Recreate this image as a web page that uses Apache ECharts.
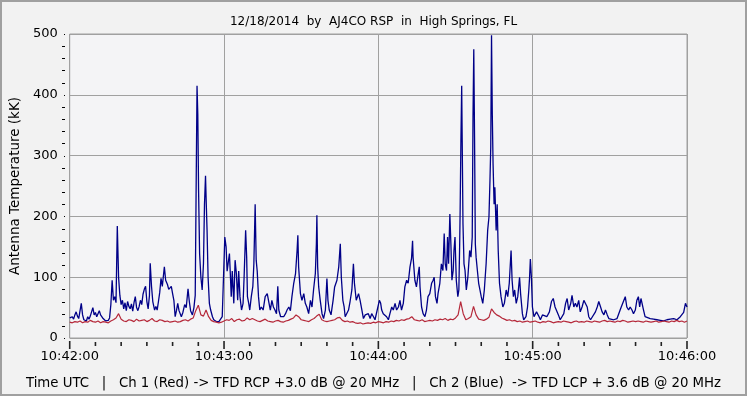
<!DOCTYPE html>
<html><head><meta charset="utf-8">
<script src="https://cdn.jsdelivr.net/npm/echarts@6/dist/echarts.min.js"></script>
<style>html,body{margin:0;padding:0;background:#f2f2f2}#c{width:747px;height:396px}</style>
</head><body><div id="c"></div>
<script>
const titleText = '12/18/2014  by  AJ4CO RSP  in  High Springs, FL';
const footerText = 'Time UTC   |   Ch 1 (Red) -> TFD RCP +3.0 dB @ 20 MHz   |   Ch 2 (Blue)  -> TFD LCP + 3.6 dB @ 20 MHz';
const yAxisName = 'Antenna Temperature (kK)';
const xTickLabels = ['10:42:00', '10:43:00', '10:44:00', '10:45:00', '10:46:00'];
// tick positions (seconds after 10:42:00 / kK)
const xTickValues = [0,10,20,30,40,50,60,70,80,90,100,110,120,130,140,150,160,170,180,190,200,210,220,230,240];
const yTickValues = [0,20,40,60,80,100,120,140,160,180,200,220,240,260,280,300,320,340,360,380,400,420,440,460,480,500];
// seconds after 10:42:00 -> value (kK), Ch 2 blue
const blueData = [[0,33],[0.5,30],[1,35],[1.5,31],[2,38],[2.5,43],[3,36],[3.5,32],[4,34],[4.5,57],[5,38],[5.5,30],[6,33],[6.5,28],[7,35],[7.5,31],[8,36],[8.5,33],[9,50],[9.5,38],[10,42],[10.5,35],[11,40],[11.5,45],[12,38],[12.5,35],[13,32],[13.5,30],[14,28],[14.5,30],[15,29],[15.5,33],
[16,55],[16.5,95],[17,62],[17.5,68],[18,58],[18.5,184],[19,100],[19.5,70],[20,55],[20.5,62],[21,48],[21.5,58],[22,45],[22.5,60],[23,52],[23.5,48],[24,56],[24.5,44],[25,58],[25.5,68],[26,50],[26.5,45],[27,52],[27.5,62],[28,55],[28.5,72],[29,80],[29.5,85],[30,60],[30.5,48],[31,70],[31.3,123],[31.8,85],[32.3,60],[33,46],[33.5,52],[34,46],[34.5,60],[35,75],[35.5,98],[36,85],[36.8,117],[37.3,95],[38,88],[38.5,80],[39,78],[39.5,85],[40,73],[40.5,62],[41,35],[41.5,45],[42,57],[42.5,45],[43.4,35],[44,42],[44.7,55],[45.3,50],[46,81],[46.5,60],[47,45],[47.7,38],[48.3,50],[48.8,70],[49.1,220],[49.5,415],[49.8,368],[50.1,243],[50.5,139],[51,100],[51.5,79],[52,122],[52.4,220],[52.8,267],[53.1,220],[53.4,177],[53.8,100],[54.3,57],[54.8,46],[55.5,35],[56,30],[56.5,28],[57,27],[57.5,30],[58,27],[58.7,29],[59.3,35],[60.3,166],[60.8,150],[61.2,110],[61.6,123],[62.1,139],[62.5,100],[62.8,68],[63.2,110],[63.8,57],[64.3,128],[64.8,106],[65.3,62],[65.7,110],[66.2,68],[66.8,46],[67.4,57],[67.8,100],[68.4,177],[68.8,133],[69.1,68],[69.6,57],[70,46],[70.6,68],[71.2,85],[71.6,122],[72.1,220],[72.5,128],[72.9,110],[73.4,68],[73.9,46],[74.5,51],[75.2,46],[76,68],[76.8,73],[77.5,57],[78,46],[78.6,62],[79.2,51],[79.8,46],[80.4,40],[80.9,85],
[81.3,46],[82,35],[82.6,38],[83.2,35],[83.9,40],[84.5,46],[85.2,51],[85.8,45],[86.4,68],[87.1,90],[87.8,106],[88.4,144],[88.7,169],[89,117],[89.7,73],[90.3,62],[91,73],[91.6,57],[92.2,51],[92.9,40],[93.6,62],[94.2,51],[94.8,79],[95.5,106],[95.9,155],[96.1,202],[96.4,117],[96.8,84],[97.4,62],[98.1,40],[98.7,32],[99.4,46],[100,98],[100.4,62],[100.9,46],[101.6,38],[102.4,62],[103,84],[103.9,95],[104.6,117],[105.2,155],[105.6,100],[106.2,62],[106.7,51],[107.1,35],[107.7,32],[108.4,46],[109,60],[109.7,79],[110.3,122],[110.7,90],[111.4,62],[112.3,73],[112.9,62],[113.6,46],[114.2,32],[114.9,38],[115.5,35],[116.1,40],[116.8,32],[117.4,40],[118.1,35],[118.7,30],[119.4,32],[120.4,62],[120.9,57],[121.3,46],[121.9,40],[122.5,38],[123.2,35],[123.9,30],[124.5,40],[125.2,51],[125.8,46],[126.5,57],[127.1,46],[127.8,51],[128.4,62],[129,46],[129.7,57],[130.3,84],[131,95],[131.6,90],[132.3,117],[132.9,131],[133.3,160],[133.5,133],[134.2,95],[134.8,84],[135.5,106],[135.9,117],[136.2,84],[136.8,51],[137.4,40],[138.1,35],[138.7,46],[139.3,68],[140,73],[140.7,90],[141.3,95],[141.7,100],[142.2,68],[142.8,57],[143.2,73],[143.9,90],[144.5,122],[145.1,111],[145.6,172],[146,122],[146.5,111],[146.9,166],[147.3,122],[147.8,204],[148.2,155],[148.6,95],[149.1,111],[149.4,144],[149.8,166],[150.3,95],[150.9,68],[151.3,79],[151.6,150],[151.8,210],[152.1,325],[152.4,415],[152.6,325],[152.9,188],[153.3,122],[153.7,111],[154.2,79],[154.8,100],[155.5,144],[156,133],[156.5,166],[156.8,363],[157.1,475],[157.4,330],[157.7,155],[158,133],[158.5,111],[159,90],[159.5,79],[160,68],[160.6,57],[161.2,79],[161.9,122],[162.5,177],[163,199],[163.4,260],[163.7,314],[164,498],[164.3,368],[164.6,286],[165,220],[165.3,248],[165.8,177],[166.2,220],[166.6,144],[167.1,90],[167.7,68],[168.4,51],[169,57],[169.7,79],[170.3,68],[170.9,90],[171.6,144],[172,95],[172.5,68],[173,79],[173.6,57],[174.2,68],[174.9,100],[175.3,73],[176,40],[176.5,30],[177.4,35],[178,51],[178.5,79],[178.8,100],[179.1,130],[179.5,100],[179.9,51],[180.5,35],[181.5,43],[182.5,35],[183,30],[183.8,38],[184.5,40],[185.5,35],[186.5,43],[187.3,60],[188,65],[188.7,51],[189.4,48],[190,38],[190.7,30],[191.4,32],[192.1,40],[192.8,57],[193.4,65],[194,46],[194.8,57],[195.3,70],[196,51],[196.6,57],[197.2,51],[197.9,62],[198.5,43],[199.2,51],[199.9,62],[200.5,65],[201.2,51],[201.8,35],[202.5,30],[203.2,32],[204.4,43],[205.1,51],[205.7,60],[206.4,51],[207,43],[207.7,38],[208.3,46],[209,38],[209.6,32],[210.3,30],[211.5,30],[212.8,32],[214,46],[214.7,54],[215.3,51],[216,68],[216.6,51],[217.3,46],[217.9,51],[218.6,46],[219.2,40],[219.9,46],[220.5,62],[221.1,68],[221.6,51],[222.1,65],[222.5,62],[223.1,46],[223.7,35],[224.4,32],[225.7,32],[227,31],[228.3,30],[229.6,29],[230.9,28],[232.2,30],[233.5,31],[234.8,32],[236.1,30],[237.4,35],[238,38],[238.7,42],[239.4,57],[240,51]];
// Ch 1 red, one value per second from 10:42:00
const redValues = [26,25,27,26,28,25,27,26,29,27,26,28,25,27,26,25,
28,30,33,40,31,
28,27,30,29,27,31,28,29,30,27,
29,32,28,27,30,29,27,28,26,27,
28,26,27,29,30,28,31,33,
45,54,38,36,46,35,
29,27,26,25,26,28,
30,29,32,27,30,31,28,29,33,30,
32,30,28,27,29,31,28,27,26,28,
29,27,26,28,29,31,33,38,35,30,
29,28,27,30,32,36,39,30,28,27,
28,29,30,33,34,29,27,28,26,27,
25,24,25,23,24,25,24,26,25,27,
26,25,27,26,28,27,29,28,30,29,
31,32,35,30,29,28,30,27,28,29,
28,30,29,31,30,32,29,31,30,33,
38,60,40,30,32,35,52,38,31,30,
29,31,34,48,42,38,36,33,31,29,
30,28,29,27,28,26,27,28,26,27,
28,26,25,27,26,28,27,25,26,27,
26,28,27,26,25,27,28,26,27,26,
28,27,26,28,27,26,28,29,27,28,
27,26,28,27,29,28,26,27,28,27,
28,27,26,28,27,26,27,28,26,27,
28,27,26,28,27,29,27,28,26,28];

const chart = echarts.init(document.getElementById('c'));
const font = 'DejaVu Sans';

function yTickItem(params, api) {
  const v = api.value(1);
  const p = api.coord([120, v]);
  const left = params.coordSys.x;
  const major = v % 100 === 0;
  return {type: 'rect', shape: {x: Math.round(left) - (major ? 6 : 8), y: Math.round(p[1]), width: major ? 1 : 3, height: 1}, style: {fill: '#000'}};
}

chart.setOption({
  backgroundColor: '#f2f2f2',
  animation: false,
  title: [
    {text: titleText, left: 'center', top: 11, textStyle: {fontFamily: font, fontSize: 12, fontWeight: 'normal', color: '#000'}},
    {text: footerText, left: 'center', top: 372, textStyle: {fontFamily: font, fontSize: 13.3, fontWeight: 'normal', color: '#000'}}
  ],
  grid: {left: 65, right: 60, top: 34, bottom: 58, show: true, backgroundColor: '#f4f4f6', borderColor: '#a0a0a0', borderWidth: 1},
  xAxis: {
    type: 'value', min: 0, max: 240, interval: 60,
    axisLine: {show: false},
    axisTick: {show: false},
    splitLine: {show: true, lineStyle: {color: '#a0a0a0', width: 1}},
    axisLabel: {margin: 12, fontFamily: font, fontSize: 13, color: '#000', formatter: v => xTickLabels[Math.round(v / 60)]}
  },
  yAxis: {
    type: 'value', min: 0, max: 500, interval: 100,
    name: yAxisName, nameLocation: 'middle', nameGap: 42, nameRotate: 90,
    nameTextStyle: {fontFamily: font, fontSize: 13.5, color: '#000'},
    axisLine: {show: false},
    axisTick: {show: false},
    splitLine: {show: true, lineStyle: {color: '#a0a0a0', width: 1}},
    axisLabel: {margin: 12, fontFamily: font, fontSize: 13, color: '#000'}
  },
  series: [
    {type: 'line', name: 'Ch 1 (Red)', data: redValues.map((v, i) => [i, v]), showSymbol: false, lineStyle: {color: '#b5283a', width: 1.2}, z: 3},
    {type: 'line', name: 'Ch 2 (Blue)', data: blueData, showSymbol: false, lineStyle: {color: '#000088', width: 1.3}, z: 2},
    {type: 'custom', name: 'yTicks', clip: false, silent: true, z: 10, data: yTickValues.map(v => [120, v]), renderItem: yTickItem, encode: {x: 0, y: 1}}
  ]
});

// x ticks placed through the chart's own scale
const yBottom = Math.round(chart.convertToPixel({yAxisIndex: 0}, 0));
const tickGraphics = xTickValues.map(v => {
  const x = chart.convertToPixel({xAxisIndex: 0}, v);
  const major = v % 60 === 0;
  return {type: 'line', silent: true, z: 100, shape: {x1: x, y1: yBottom + (major ? 3 : 4), x2: x, y2: yBottom + (major ? 11 : 8)}, style: {stroke: '#222', lineWidth: 1.6}};
});
tickGraphics.push({type: 'rect', silent: true, z: 100, shape: {x: 1, y: 1, width: 745, height: 394}, style: {fill: 'none', stroke: '#a0a0a0', lineWidth: 2}});
chart.setOption({graphic: tickGraphics});
</script></body></html>
